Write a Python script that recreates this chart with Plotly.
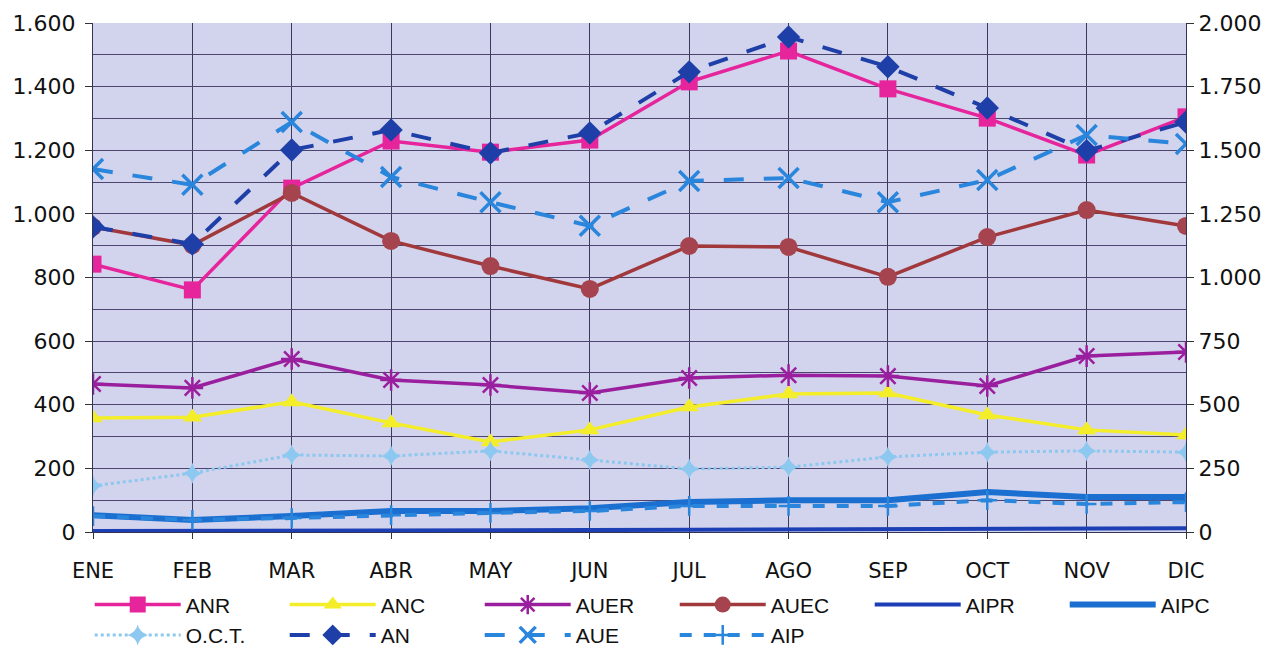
import plotly.graph_objects as go

months = ["ENE", "FEB", "MAR", "ABR", "MAY", "JUN", "JUL", "AGO", "SEP", "OCT", "NOV", "DIC"]

# left axis series
anr = [842, 761, 1081, 1229, 1194, 1232, 1415, 1512, 1393, 1301, 1185, 1305]
anc = [358, 361, 409, 343, 283, 321, 393, 434, 437, 368, 321, 305]
auer = [465, 453, 544, 478, 462, 437, 484, 493, 490, 459, 553, 566]
auec = [959, 902, 1066, 915, 836, 764, 899, 896, 802, 927, 1012, 962]
aipr = [3, 3, 4, 5, 5, 6, 7, 8, 8, 9, 10, 12]
aipc = [53, 38, 50, 66, 66, 75, 94, 100, 100, 126, 110, 110]
oct_ = [145, 185, 242, 239, 255, 226, 198, 204, 236, 251, 255, 251]
aip = [50, 38, 44, 53, 60, 66, 82, 82, 82, 100, 88, 94]
# right axis series
an = [1199, 1131, 1501, 1580, 1489, 1568, 1808, 1945, 1828, 1666, 1498, 1611]
aue = [1426, 1364, 1611, 1395, 1296, 1203, 1379, 1391, 1296, 1383, 1560, 1525]

left_ticks = list(range(0, 1601, 200))
right_ticks = list(range(0, 2001, 250))

fig = go.Figure()

def add(name, y, color, width, dash="solid", symbol=None, msize=0, mcolor=None, axis="y", mline=None):
    mode = "lines+markers" if symbol else "lines"
    marker = dict(symbol=symbol, size=msize, color=mcolor or color) if symbol else None
    if symbol and mline:
        marker["line"] = mline
    fig.add_trace(go.Scatter(x=months, y=y, name=name, mode=mode, yaxis=axis,
                             line=dict(color=color, width=width, dash=dash),
                             marker=marker))

add("ANR", anr, "#e6249c", 3.5, symbol="square", msize=17)
add("ANC", anc, "#f4ee2a", 3.5, symbol="triangle-up", msize=17)
add("AUER", auer, "#9a1f9e", 3.5, symbol="asterisk-open", msize=18, mline=dict(color="#9a1f9e", width=2.5))
add("AUEC", auec, "#a0383c", 3.5, symbol="circle", msize=18, mcolor="#a5434e")
add("AIPR", aipr, "#1d3fb5", 4)
add("AIPC", aipc, "#1a6fd0", 6)
add("O.C.T.", oct_, "#8cc8ef", 3, dash="dot", symbol="star-diamond", msize=15)
add("AN", an, "#1f3fa8", 4, dash="longdash", symbol="diamond", msize=18, axis="y2")
add("AUE", aue, "#2a86dc", 4, dash="longdash", symbol="x-thin-open", msize=20, axis="y2",
    mline=dict(color="#2a86dc", width=3.5))
add("AIP", aip, "#2a86dc", 4, dash="dash", symbol="cross-thin-open", msize=14,
    mline=dict(color="#2a86dc", width=2.5))

tickfont = dict(family="DejaVu Sans, Verdana, sans-serif", size=21, color="#111111")
ytickfont = dict(family="DejaVu Sans, Verdana, sans-serif", size=22, color="#111111")

fig.update_layout(
    width=1265, height=642,
    margin=dict(l=85, r=87, t=15, b=118, autoexpand=False),
    paper_bgcolor="white",
    plot_bgcolor="#d2d3ec",
    separators=",.",
    showlegend=True,
    legend=dict(orientation="h", x=-0.003, xanchor="left", y=-0.103, yanchor="top",
                entrywidth=94, entrywidthmode="pixels", itemwidth=86,
                font=dict(family="Liberation Sans, Arial, sans-serif", size=21, color="#111111"),
                bgcolor="rgba(0,0,0,0)", tracegroupgap=0),
    xaxis=dict(type="category", range=[0, 11], showgrid=True, gridcolor="#3a3a5c", gridwidth=1,
               ticks="outside", ticklen=6, tickcolor="#333333", tickfont=tickfont,
               ticklabelstandoff=14, automargin=False,
               showline=True, linecolor="#333355", zeroline=False),
    yaxis=dict(range=[0, 1600], tickvals=left_ticks, tickformat=",d", showgrid=True,
               gridcolor="#4d4570", gridwidth=1, ticks="outside", ticklen=7, tickcolor="#333333",
               tickfont=ytickfont, showline=True, linecolor="#333355", zeroline=False,
               ticklabelstandoff=5, automargin=False,
               minor=dict(dtick=100, showgrid=True, gridcolor="#4d4570", gridwidth=1)),
    yaxis2=dict(range=[0, 2000], tickvals=right_ticks, tickformat=",d", overlaying="y", side="right",
                showgrid=False, ticks="outside", ticklen=7, tickcolor="#333333", tickfont=ytickfont,
                ticklabelstandoff=0, automargin=False,
                showline=True, linecolor="#333355", zeroline=False),
)

fig.write_html("out.html")
